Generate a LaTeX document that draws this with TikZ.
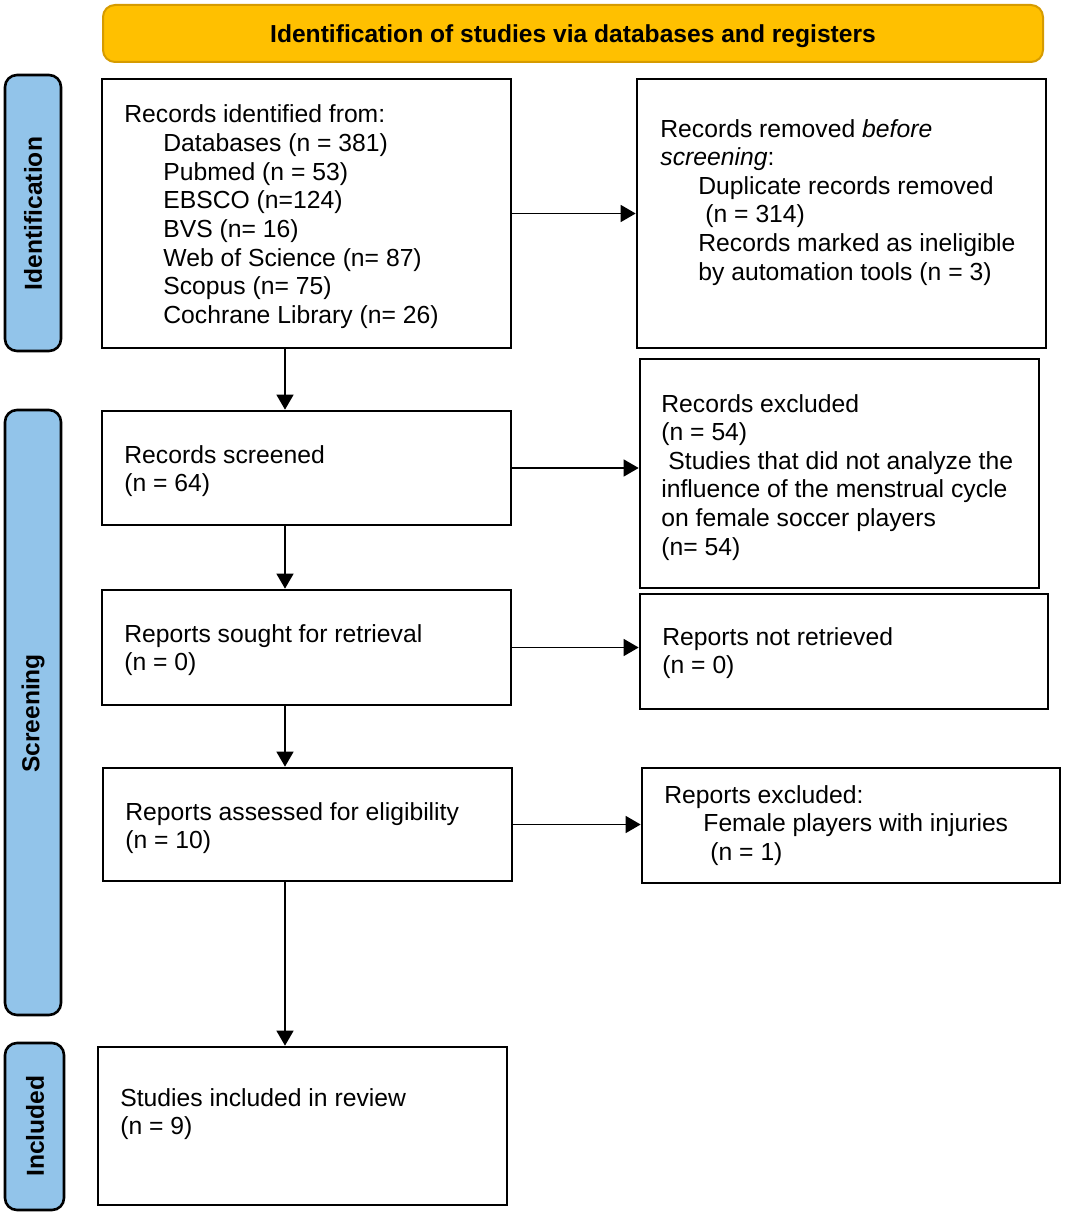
\documentclass[tikz,border=0pt]{standalone}
\usepackage{fontspec}
\setmainfont{Liberation Sans}
\usetikzlibrary{arrows.meta}
\definecolor{hdrfill}{RGB}{255,192,0}
\definecolor{hdrdraw}{RGB}{214,155,0}
\definecolor{sidefill}{RGB}{146,196,234}
\begin{document}
\begin{tikzpicture}[x=0.5pt,y=-0.5pt,
  box/.style={draw=black, line width=1.35pt, fill=white, inner sep=0pt},
  txt/.style={anchor=base west, inner sep=0pt, align=left, font=\fontsize{12.35}{14.3}\selectfont},
  side/.style={draw=black, line width=1.3pt, fill=sidefill, rounded corners=6pt, inner sep=0pt},
  sidetxt/.style={rotate=90, inner sep=0pt, font=\fontsize{12.3}{14}\selectfont\bfseries},
  arr/.style={draw=black, line width=0.75pt, -{Triangle[length=7.5pt,width=8.5pt]}}]
\useasboundingbox (0,0) rectangle (1065,1214);

% header
\node[draw=hdrdraw, line width=1pt, fill=hdrfill, rounded corners=6pt, minimum width=470pt, minimum height=28.5pt, inner sep=0pt] (hdr) at (573,33.5) {};
\node[anchor=base, inner sep=0pt, font=\fontsize{12.3}{14}\selectfont\bfseries] (hdrt) at (573,42.7) {Identification of studies via databases and registers};

% side bars
\node[side, minimum width=28pt, minimum height=138pt] (sid) at (33,213) {};
\node[sidetxt] (sidt) at (33,213.5) {Identification};
\node[side, minimum width=28pt, minimum height=302.5pt] (ssc) at (33,712.5) {};
\node[sidetxt] (ssct) at (33,713.5) {Screening};
\node[side, minimum width=29.5pt, minimum height=83.5pt] (sin) at (34.5,1126.5) {};
\node[sidetxt] (sint) at (35,1126) {Included};

% boxes
\node[box, minimum width=204.5pt, minimum height=134.5pt] (b1) at (306.5,213.5) {};
\node[box, minimum width=204.5pt, minimum height=134.5pt] (b2) at (841.5,213.5) {};
\node[box, minimum width=204.5pt, minimum height=57pt] (b3) at (306.5,468) {};
\node[box, minimum width=199.5pt, minimum height=114.5pt] (b4) at (839.5,473.5) {};
\node[box, minimum width=204.5pt, minimum height=57.5pt] (b5) at (306.5,647.5) {};
\node[box, minimum width=204pt, minimum height=57.5pt] (b6) at (844,651.5) {};
\node[box, minimum width=204.5pt, minimum height=56.5pt] (b7) at (307.5,824.5) {};
\node[box, minimum width=209pt, minimum height=57.5pt] (b8) at (851,825.5) {};
\node[box, minimum width=204.5pt, minimum height=79pt] (b9) at (302.5,1126) {};

% texts (anchor = baseline of the last line)
\node[txt] (t1) at (124,323.2) {Records identified from:\\
\hspace*{19.5pt}Databases (n = 381)\\
\hspace*{19.5pt}Pubmed (n = 53)\\
\hspace*{19.5pt}EBSCO (n=124)\\
\hspace*{19.5pt}BVS (n= 16)\\
\hspace*{19.5pt}Web of Science (n= 87)\\
\hspace*{19.5pt}Scopus (n= 75)\\
\hspace*{19.5pt}Cochrane Library (n= 26)};
\node[txt] (t2) at (660,280) {Records removed \textit{before}\\
\textit{screening}:\\
\hspace*{19pt}Duplicate records removed\\
\hspace*{22.5pt}(n = 314)\\
\hspace*{19pt}Records marked as ineligible\\
\hspace*{19pt}by automation tools (n = 3)};
\node[txt] (t3) at (124,491.6) {Records screened\\(n = 64)};
\node[txt] (t4) at (661,555) {Records excluded\\
(n = 54)\\
\hspace*{3.5pt}Studies that did not analyze the\\
influence of the menstrual cycle\\
on female soccer players\\
(n= 54)};
\node[txt] (t5) at (124,670.6) {Reports sought for retrieval\\(n = 0)};
\node[txt] (t6) at (662,673.6) {Reports not retrieved\\(n = 0)};
\node[txt] (t7) at (125,848.6) {Reports assessed for eligibility\\(n = 10)};
\node[txt] (t8) at (664,860.2) {Reports excluded:\\
\hspace*{19.5pt}Female players with injuries\\
\hspace*{23pt}(n = 1)};
\node[txt] (t9) at (120,1134.6) {Studies included in review\\(n = 9)};

% arrows
\coordinate (vx) at (285,0);
\draw[arr] (b1.south -| vx) -- (b3.north -| vx);
\draw[arr] (b3.south -| vx) -- (b5.north -| vx);
\draw[arr] (b5.south -| vx) -- (b7.north -| vx);
\draw[arr] (b7.south -| vx) -- (b9.north -| vx);
\draw[arr] (b1.east) -- (b2.west);
\draw[arr] (b3.east) -- (b3.east -| b4.west);
\draw[arr] (b5.east) -- (b5.east -| b6.west);
\draw[arr] (b7.east) -- (b7.east -| b8.west);
\end{tikzpicture}
\end{document}
